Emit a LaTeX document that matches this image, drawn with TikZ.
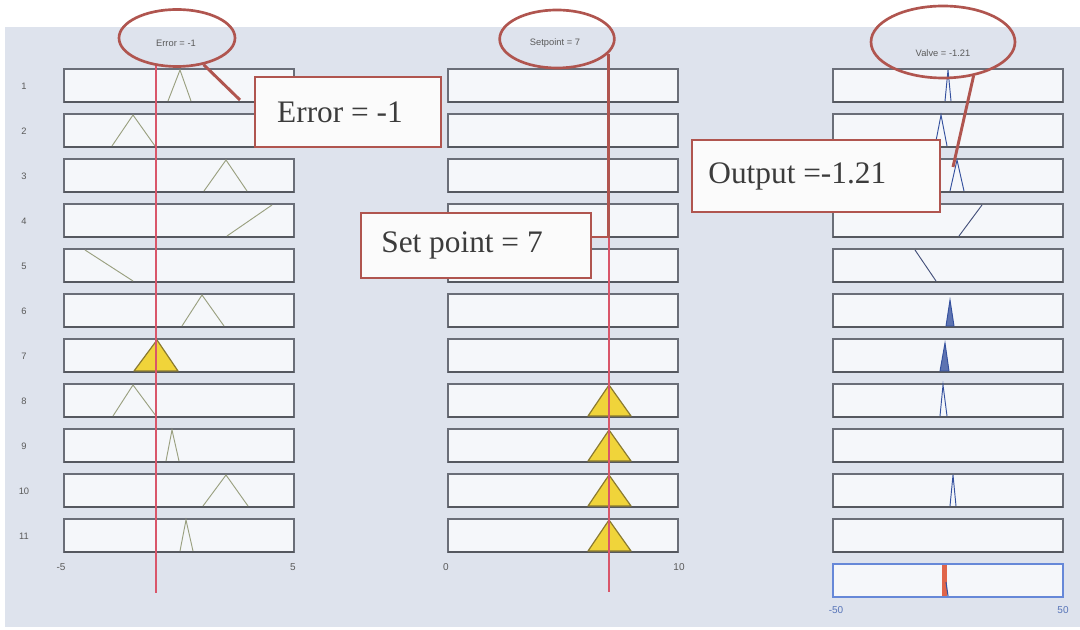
\documentclass[tikz,border=0pt]{standalone}
\usepackage{fontspec}
\setmainfont{Liberation Serif}
\setsansfont{Liberation Sans}
\usetikzlibrary{shapes.geometric}

\definecolor{bgblue}{HTML}{DEE3ED}
\definecolor{boxfill}{HTML}{F5F7FA}
\definecolor{boxgray}{HTML}{6A6E78}
\definecolor{axisgray}{HTML}{55585F}
\definecolor{mfolive}{HTML}{9AA080}
\definecolor{mfyellow}{HTML}{F0D43A}
\definecolor{yellowedge}{HTML}{8A7A30}
\definecolor{cutred}{HTML}{D9566A}
\definecolor{callred}{HTML}{B0554F}
\definecolor{callfill}{HTML}{FBFBFB}
\definecolor{calltext}{HTML}{3C3C3C}
\definecolor{mfblue}{HTML}{34509E}
\definecolor{rampblue}{HTML}{44507A}
\definecolor{outblue}{HTML}{6688D8}
\definecolor{aggred}{HTML}{E0654A}
\definecolor{labgray}{HTML}{5A5A5A}

\begin{document}
\begin{tikzpicture}[x=0.75pt,y=-0.75pt,
  mfbox/.style={draw=boxgray,line width=0.8pt,fill=boxfill,minimum width=172.5pt,
    minimum height=24.75pt,inner sep=0pt,outer sep=0pt,anchor=north west},
  outbox/.style={mfbox,draw=outblue},
  axisbar/.style={draw=axisgray,line width=1.8pt},
  mfline/.style={draw=mfolive,line width=0.7pt,line join=miter},
  mffill/.style={draw=yellowedge,fill=mfyellow,line width=0.9pt,line join=round},
  bluemf/.style={draw=mfblue,line width=0.7pt},
  bluefill/.style={draw=mfblue,fill=mfblue!80,line width=0.7pt},
  cutline/.style={draw=cutred,line width=0.8pt},
  rowlab/.style={font=\sffamily\fontsize{7}{8}\selectfont,text=labgray,inner sep=0pt},
  ticklab/.style={font=\sffamily\fontsize{7.5}{9}\selectfont,text=labgray,inner sep=0pt},
  ttl/.style={font=\sffamily\fontsize{7}{8}\selectfont,text=labgray,inner sep=0pt},
  callbox/.style={draw=callred,line width=2.2pt,fill=callfill,inner sep=0pt,
    font=\fontsize{23.5}{26}\selectfont,text=calltext},
  callring/.style={ellipse,draw=callred,line width=2pt,inner sep=0pt},
  callptr/.style={draw=callred,line width=2.2pt}
]
\useasboundingbox (0,0) rectangle (1080,630);
\fill[white] (0,0) rectangle (1080,630);
\fill[bgblue] (5,27) rectangle (1080,627);

% rule rows: input 1 (Error), input 2 (Setpoint), output (Valve)
\foreach \i in {1,...,11}{
  \pgfmathsetmacro\yt{69+45*(\i-1)}
  \node[mfbox] (L\i) at (64,\yt) {};
  \node[mfbox] (M\i) at (448,\yt) {};
  \node[mfbox] (R\i) at (833,\yt) {};
  \draw[axisbar] (L\i.south west) -- (L\i.south east);
  \draw[axisbar] (M\i.south west) -- (M\i.south east);
  \draw[axisbar] (R\i.south west) -- (R\i.south east);
  \node[rowlab] (n\i) at (24,\yt+17) {\i};
}
% aggregated output row
\node[outbox] (R12) at (833,564) {};
\draw[axisbar,draw=outblue] (R12.south west) -- (R12.south east);

% Error membership functions
\foreach \r/\a/\p/\c in {1/168/180/191,2/112/133/155,3/204/226/247,6/182/202/224,
                         8/113/133/156,9/166/172/179,10/203/226/248,11/180/186/193}{
  \pgfmathsetmacro\yt{69+45*(\r-1)+1}
  \pgfmathsetmacro\yb{\yt+31}
  \draw[mfline] (\a,\yb) -- (\p,\yt) -- (\c,\yb);
}
\draw[mfline] (227,236) -- (272,205);
\draw[mfline] (85,250) -- (133,281);
\filldraw[mffill] (134,371) -- (157,340) -- (178,371) -- cycle;

% Setpoint membership functions (fired rules)
\foreach \r in {8,...,11}{
  \pgfmathsetmacro\yt{69+45*(\r-1)+1}
  \pgfmathsetmacro\yb{\yt+31}
  \filldraw[mffill] (588,\yb) -- (609,\yt) -- (631,\yb) -- cycle;
}

% Valve membership functions
\foreach \r/\a/\p/\c in {1/945/948/951,2/935/941/947,3/950/957/964,
                         8/940/943/947,10/950/953/956}{
  \pgfmathsetmacro\yt{69+45*(\r-1)+1}
  \pgfmathsetmacro\yb{\yt+31}
  \draw[bluemf] (\a,\yb) -- (\p,\yt) -- (\c,\yb);
}
\filldraw[bluefill] (946,326) -- (950,300) -- (954,326) -- cycle;
\filldraw[bluefill] (940,371) -- (945,343) -- (949,371) -- cycle;
\draw[bluemf,draw=rampblue] (959,236) -- (982,205);
\draw[bluemf,draw=rampblue] (915,250) -- (936,281);

% aggregated output
\fill[aggred] (942,565) rectangle (947,596);
\draw[mfblue,line width=0.8pt] (946,582) -- (948,596);

% input values
\draw[cutline] (156,66) -- (156,593);
\draw[cutline] (609,69) -- (609,592);

% axis ranges
\node[ticklab] (xl1) at (61,567) {-5};
\node[ticklab] (xr1) at (293,567) {5};
\node[ticklab] (xl2) at (446,567) {0};
\node[ticklab] (xr2) at (679,567) {10};
\node[ticklab,text=outblue!85!black] (xl3) at (836,610) {-50};
\node[ticklab,text=outblue!85!black] (xr3) at (1063,610) {50};

% variable titles
\node[ttl] (errTtl) at (176,43) {Error = -1};
\node[ttl] (spTtl) at (555,43) {Setpoint = 7};
\node[ttl] (valTtl) at (943,53) {Valve = -1.21};

% callouts
\node[callbox,minimum width=139.5pt,minimum height=52.5pt] (errBox) at (348,112)
  {Error = -1\hspace*{12pt}};
\node[callbox,minimum width=172.5pt,minimum height=48.75pt] (spBox) at (476,245.5)
  {Set point = 7\hspace*{21pt}};
\node[callbox,minimum width=186pt,minimum height=54pt] (outBox) at (816,176)
  {Output =-1.21\hspace*{28pt}};

\node[callring,minimum width=87pt,minimum height=42.75pt] (errRing) at (177,38) {};
\node[callring,minimum width=86pt,minimum height=43.5pt] (spRing) at (557,39) {};
\node[callring,minimum width=108pt,minimum height=54pt] (valRing) at (943,42) {};

\coordinate (errTip) at (240,100);
\coordinate (spTurn) at (607,237);
\coordinate (valTip) at (953,167);
\draw[callptr] (errRing.-45) -- (errTip);
\draw[callptr] (spRing.-16) -- (spRing.-16 |- spTurn) -- (spBox.east |- spTurn);
\draw[callptr] (valRing.-48) -- (valTip);
\end{tikzpicture}
\end{document}
